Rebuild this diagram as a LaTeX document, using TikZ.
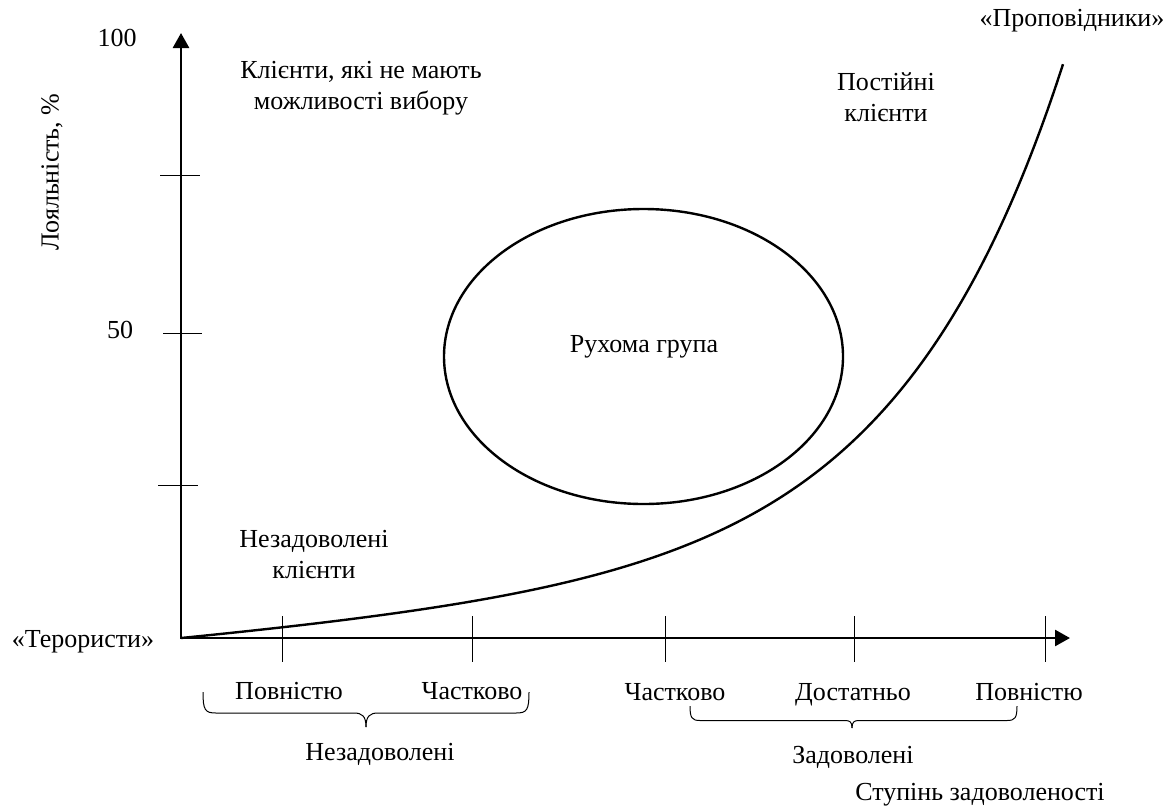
\documentclass[tikz,border=0pt]{standalone}
\usepackage{fontspec}
\setmainfont{Liberation Serif}
\usetikzlibrary{arrows.meta,shapes.geometric}
\begin{document}
\begin{tikzpicture}[x=1pt,y=-1pt,
  lbl/.style={font=\fontsize{26}{31}\selectfont, inner sep=0pt, align=center},
  axisline/.style={line width=2.6pt,
    {Triangle[length=15pt,width=16pt]}-{Triangle[length=15pt,width=16pt]}},
  tickline/.style={line width=1pt},
  thick curve/.style={line width=2.4pt},
  bracepath/.style={line width=1pt}]
\useasboundingbox (0,0) rectangle (1172,807);

% axes
\coordinate (O) at (181,638);
\coordinate (ytop) at (181,33);
\coordinate (xend) at (1070,638);
\draw[axisline] (ytop) -- (O) -- (xend);

% ticks on the loyalty axis
\draw[tickline] (160,175) -- (200,175);
\draw[tickline] (163,333) -- (202,333);
\draw[tickline] (158,485) -- (198,485);

% ticks on the satisfaction axis
\foreach \tx in {282,472,665,854,1045}
  \draw[tickline] (\tx,616) -- (\tx,662);

% axis labels
\node[lbl] (v100) at (117,38) {100};
\node[lbl] (v50) at (120,330) {50};
\node[lbl, rotate=90] (ylab) at (52,172) {Лояльність, \%};
\node[lbl] (terr) at (83,642) {«Терористи»};
\node[lbl] (prop) at (1072,21) {«Проповідники»};

% loyalty curve: linear start with an exponential rise
\draw[thick curve] plot[domain=0:882, samples=120, smooth]
  ({181+\x}, {638-0.085*\x-2.53*(exp(0.006*\x)-1)});

% the floating group
\node[draw, ellipse, thick curve, minimum width=399pt, minimum height=295pt,
  inner sep=0pt] (grp) at (643.5,356.5) {};
\node[lbl] (grptext) at (644,347) {Рухома група};

% region labels
\node[lbl] (nochoice) at (361,88) {Клієнти, які не мають\\можливості вибору};
\node[lbl] (regular) at (886,97) {Постійні\\клієнти};
\node[lbl] (unsat) at (314,555) {Незадоволені\\клієнти};

% grades under the satisfaction axis
\node[lbl, anchor=base] (g1) at (289,699) {Повністю};
\node[lbl, anchor=base] (g2) at (472,699) {Частково};
\node[lbl, anchor=base] (g3) at (675,700) {Частково};
\node[lbl, anchor=base] (g4) at (853,700) {Достатньо};
\node[lbl, anchor=base] (g5) at (1029,700) {Повністю};

% braces
\draw[bracepath] (203,692) .. controls (203,710) and (205,713) .. (216,713)
  -- (354,713) .. controls (362,713) and (366,716) .. (366,727);
\draw[bracepath] (529,692) .. controls (529,710) and (527,713) .. (516,713)
  -- (378,713) .. controls (370,713) and (366,716) .. (366,727);
\draw[bracepath] (690,706) .. controls (690,718) and (692,720.5) .. (700,720.5)
  -- (845,720.5) .. controls (850,720.5) and (852,722) .. (852,728);
\draw[bracepath] (1017,706) .. controls (1017,718) and (1015,720.5) .. (1007,720.5)
  -- (859,720.5) .. controls (854,720.5) and (852,722) .. (852,728);

\node[lbl, anchor=base] (unsatgrp) at (380,760) {Незадоволені};
\node[lbl, anchor=base] (satgrp) at (853,763) {Задоволені};
\node[lbl, anchor=base] (xlab) at (980,800) {Ступінь задоволеності};
\end{tikzpicture}
\end{document}
